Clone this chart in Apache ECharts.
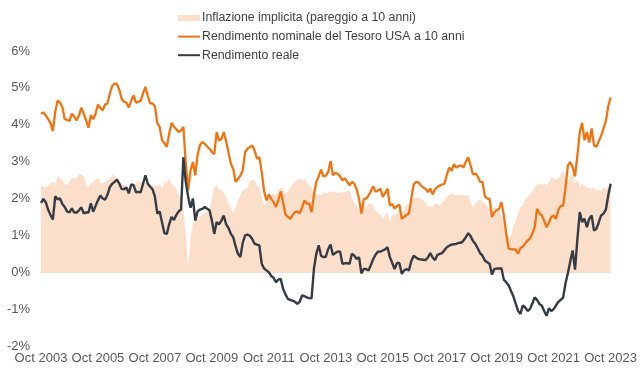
<!DOCTYPE html>
<html>
<head>
<meta charset="utf-8">
<script src="https://cdn.jsdelivr.net/npm/echarts@6/dist/echarts.min.js"></script>
<style>html,body{margin:0;padding:0;background:#fff}#c{width:640px;height:382px}</style>
</head>
<body>
<div id="c"></div>
<script>
// Monthly observations, Oct 2003 .. Oct 2023
const monthNames = ['Jan','Feb','Mar','Apr','May','Jun','Jul','Aug','Sep','Oct','Nov','Dec'];
const startYear = 2003, startMonth = 9, monthCount = 241;
const categories = [];
for (let i = 0; i < monthCount; i++) {
  const m = (startMonth + i) % 12, y = startYear + Math.floor((startMonth + i) / 12);
  categories.push(monthNames[m] + ' ' + y);
}
const seriesNames = ['Inflazione implicita (pareggio a 10 anni)', 'Rendimento nominale del Tesoro USA a 10 anni', 'Rendimento reale'];
const yTicks = [-2, -1, 0, 1, 2, 3, 4, 5, 6];

const breakeven = [2.36,2.32,2.30,2.35,2.40,2.45,2.40,2.63,2.55,2.50,2.40,2.36,2.45,2.57,2.55,
2.55,2.67,2.65,2.60,2.40,2.31,2.40,2.45,2.50,2.57,2.45,2.40,
2.45,2.50,2.55,2.65,2.62,2.55,2.50,2.40,2.38,2.32,2.30,2.35,
2.42,2.40,2.45,2.45,2.42,2.43,2.40,2.38,2.35,2.35,2.35,2.38,
2.30,2.45,2.40,2.57,2.40,2.35,2.25,2.10,2.04,1.70,1.00,0.15,
0.90,1.32,1.40,1.45,1.50,1.55,1.60,1.65,1.70,2.00,2.30,2.36,
2.25,2.22,2.15,2.05,1.86,1.75,1.59,1.75,1.95,2.10,2.22,2.25,
2.30,2.45,2.51,2.50,2.35,2.30,2.05,1.81,1.90,2.05,2.10,2.15,
2.10,2.20,2.29,2.25,2.10,2.20,2.30,2.40,2.45,2.50,2.54,2.50,
2.52,2.45,2.35,2.29,2.15,2.13,2.10,2.10,2.17,2.15,2.15,2.20,
2.17,2.20,2.15,2.15,2.20,2.17,2.20,2.22,2.00,1.90,1.81,1.70,
1.62,1.86,1.75,1.86,1.86,1.80,1.68,1.60,1.55,1.45,1.55,1.63,
1.40,1.55,1.54,1.62,1.68,1.55,1.70,1.86,1.80,2.00,2.00,2.02,
2.03,2.00,1.95,1.90,1.78,1.80,1.78,1.86,1.85,1.81,1.90,1.95,
2.06,2.10,2.13,2.12,2.08,2.10,2.10,2.08,2.08,2.10,1.90,1.77,
1.85,1.95,1.95,1.90,1.86,1.80,1.70,1.65,1.80,1.70,1.65,1.55,
1.35,1.15,0.95,1.00,1.25,1.40,1.60,1.77,1.80,1.95,2.05,2.10,
2.20,2.30,2.38,2.40,2.38,2.40,2.35,2.45,2.55,2.55,2.52,2.55,
2.65,2.76,2.57,2.45,2.60,2.70,2.40,2.50,2.31,2.40,2.35,2.30,
2.30,2.25,2.30,2.20,2.25,2.20,2.30,2.25,2.30,2.36];

const nominal = [4.30,4.33,4.25,4.15,4.05,3.83,4.35,4.65,4.60,4.48,4.15,4.13,4.10,4.30,4.22,
4.12,4.25,4.46,4.30,4.12,3.92,4.26,4.15,4.30,4.55,4.45,4.39,
4.55,4.58,4.85,5.05,5.12,5.10,4.95,4.70,4.62,4.60,4.47,4.65,
4.80,4.60,4.62,4.65,4.85,5.03,4.78,4.58,4.58,4.50,4.05,3.94,
3.58,3.50,3.40,3.75,4.05,3.95,3.88,3.80,3.85,3.94,2.95,2.22,
2.76,2.99,2.63,3.20,3.45,3.53,3.48,3.41,3.35,3.26,3.20,3.80,
3.57,3.62,3.80,3.55,3.25,2.94,2.80,2.45,2.53,2.62,2.76,3.26,
3.35,3.40,3.44,3.30,3.08,3.12,2.72,2.20,1.95,2.11,1.99,1.90,
1.77,1.95,2.19,1.90,1.57,1.50,1.45,1.55,1.63,1.65,1.60,1.75,
1.95,1.86,1.86,1.63,2.10,2.45,2.60,2.78,2.60,2.62,2.72,3.02,
2.63,2.70,2.67,2.60,2.49,2.55,2.45,2.36,2.45,2.40,2.25,1.99,
1.59,1.99,2.00,2.08,2.20,2.33,2.18,2.22,2.27,2.04,2.15,2.27,
1.81,1.85,1.72,1.80,1.83,1.45,1.50,1.55,1.59,1.99,2.38,2.45,
2.44,2.36,2.30,2.27,2.17,2.27,2.11,2.25,2.31,2.35,2.38,2.40,
2.65,2.84,2.75,2.93,2.84,2.88,2.90,2.84,3.00,3.12,2.90,2.65,
2.68,2.60,2.45,2.45,2.06,2.00,1.99,1.50,1.63,1.68,1.72,1.90,
1.55,1.05,0.64,0.63,0.62,0.62,0.50,0.66,0.70,0.78,0.86,0.91,
1.05,1.22,1.72,1.60,1.54,1.40,1.22,1.35,1.50,1.54,1.45,1.70,
1.80,1.81,2.30,2.90,2.99,2.85,2.60,3.17,3.80,4.05,3.58,3.80,
3.52,3.90,3.44,3.40,3.55,3.70,3.90,4.10,4.50,4.74];

const real = [1.88,1.99,1.90,1.70,1.55,1.43,2.06,1.98,2.00,1.85,1.77,1.65,1.62,1.73,1.62,
1.62,1.68,1.76,1.60,1.62,1.62,1.87,1.64,1.80,1.95,2.08,2.00,
1.97,2.10,2.31,2.40,2.45,2.51,2.40,2.26,2.25,2.30,2.14,2.38,
2.36,2.17,2.18,2.17,2.40,2.63,2.40,2.32,2.25,2.05,1.59,1.65,
1.35,1.06,1.04,1.30,1.50,1.42,1.55,1.65,1.70,3.12,2.45,2.05,
1.75,2.00,1.40,1.65,1.70,1.72,1.77,1.72,1.68,1.40,1.04,1.36,
1.30,1.40,1.54,1.30,1.20,1.04,0.95,0.70,0.50,0.41,0.80,1.00,
1.02,0.99,0.90,0.77,0.75,0.73,0.23,0.10,0.05,0.00,-0.10,-0.15,
-0.27,-0.20,-0.18,-0.45,-0.60,-0.72,-0.75,-0.77,-0.80,-0.86,-0.80,-0.63,
-0.65,-0.68,-0.70,-0.71,0.10,0.50,0.73,0.45,0.41,0.42,0.63,0.75,
0.47,0.52,0.56,0.56,0.23,0.24,0.25,0.23,0.50,0.45,0.36,0.41,
-0.03,0.09,0.09,0.05,0.20,0.36,0.48,0.56,0.56,0.59,0.62,0.68,
0.41,0.25,0.09,0.25,0.25,-0.04,0.05,0.09,0.05,0.30,0.45,0.40,
0.36,0.35,0.34,0.33,0.40,0.52,0.40,0.33,0.47,0.50,0.52,0.60,
0.68,0.72,0.75,0.76,0.77,0.80,0.80,0.86,0.95,1.06,0.98,0.85,
0.77,0.65,0.52,0.45,0.32,0.27,0.23,-0.06,0.09,0.10,0.10,0.11,
-0.20,-0.27,-0.35,-0.50,-0.65,-0.85,-1.05,-1.13,-0.90,-0.95,-1.05,-1.00,
-0.85,-0.68,-0.75,-0.86,-0.90,-1.05,-1.18,-0.98,-1.05,-1.00,-0.90,-0.80,
-0.75,-0.68,-0.30,-0.02,0.30,0.59,0.07,0.90,1.63,1.36,1.45,1.22,
1.45,1.54,1.13,1.18,1.35,1.54,1.59,1.70,2.08,2.40];

const FONT = '"Liberation Sans", Arial, sans-serif';
const LINE_ICON = 'path://M0,0H22V2H0Z';
const chart = echarts.init(document.getElementById('c'), null, {renderer: 'canvas'});
chart.setOption({
  animation: false,
  backgroundColor: '#ffffff',
  textStyle: {fontFamily: FONT},
  legend: {
    orient: 'vertical', left: 173, top: 7, itemGap: 6.6, itemWidth: 22, itemHeight: 6,
    symbolKeepAspect: true,
    textStyle: {fontFamily: FONT, fontSize: 12.3, color: '#404040', padding: [0, 0, 0, -3]},
    data: [
      {name: seriesNames[0], icon: 'rect', itemStyle: {color: '#fbdfcb'}},
      {name: seriesNames[1], icon: LINE_ICON, itemStyle: {color: '#ef7411'}},
      {name: seriesNames[2], icon: LINE_ICON, itemStyle: {color: '#353b45'}}
    ]
  },
  grid: {left: 41, right: 27, top: 51, bottom: 36},
  xAxis: {
    type: 'category', data: categories, boundaryGap: false,
    axisLine: {show: true, onZero: true, lineStyle: {color: '#eedfd4', width: 1}},
    axisTick: {show: false},
    axisLabel: {
      interval: function (i) { return i % 24 === 0; },
      fontFamily: FONT, fontSize: 13, color: '#595959', margin: 6,
      showMaxLabel: true
    },
    splitLine: {show: false}
  },
  yAxis: {
    type: 'value', min: yTicks[0], max: yTicks[yTicks.length - 1], interval: 1,
    axisLine: {show: false}, axisTick: {show: false},
    axisLabel: {formatter: '{value}%', fontFamily: FONT, fontSize: 13, color: '#595959', margin: 11},
    splitLine: {show: false}
  },
  series: [
    {
      name: seriesNames[0], type: 'line', data: breakeven, symbol: 'none',
      lineStyle: {width: 0, color: '#fbdfcb'}, itemStyle: {color: '#fbdfcb'},
      areaStyle: {color: '#fbdfcb', opacity: 1, origin: 0}, z: 1
    },
    {
      name: seriesNames[1], type: 'line', data: nominal, symbol: 'none',
      lineStyle: {width: 2.3, color: '#ef7411'}, itemStyle: {color: '#ef7411'}, z: 3
    },
    {
      name: seriesNames[2], type: 'line', data: real, symbol: 'none',
      lineStyle: {width: 2.4, color: '#353b45'}, itemStyle: {color: '#353b45'}, z: 4
    }
  ]
});
</script>
</body>
</html>
